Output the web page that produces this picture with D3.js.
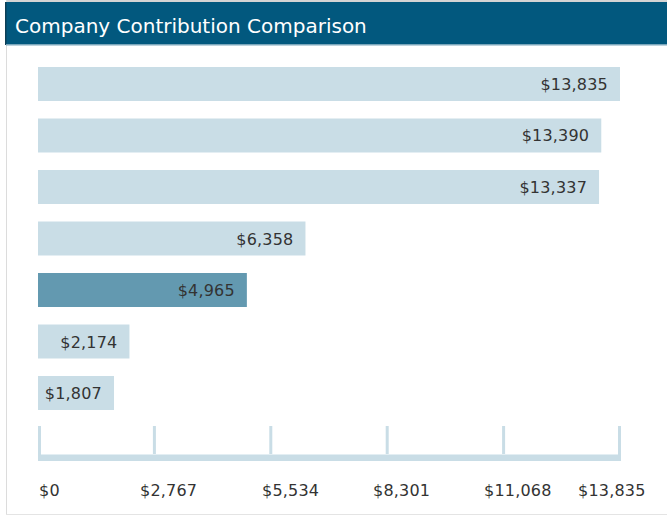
<!DOCTYPE html>
<html>
<head>
<meta charset="utf-8">
<script src="https://cdn.jsdelivr.net/npm/d3@7"></script>
<style>
  html, body { margin: 0; padding: 0; background: #fff; }
  svg { display: block; }
</style>
</head>
<body>
<svg id="chart" width="667" height="516"></svg>
<script>
const title = "Company Contribution Comparison";
const categories = ["Company 1", "Company 2", "Company 3", "Company 4", "Your Company", "Company 6", "Company 7"];
const values = [13835, 13390, 13337, 6358, 4965, 2174, 1807];
const highlightCategory = "Your Company";
const tickValues = [0, 2767, 5534, 8301, 11068, 13835];
const tickLabels = ["$0", "$2,767", "$5,534", "$8,301", "$11,068", "$13,835"];

const svg = d3.select("#chart");
const W = 667, H = 516;
const font = "'DejaVu Sans', sans-serif";
const fmt = d3.format(",");

// frame
svg.append("rect").attr("x", 6).attr("y", 0).attr("width", W - 6).attr("height", 2).attr("fill", "#d4d4d4");
svg.append("rect").attr("x", 6).attr("y", 0).attr("width", 1).attr("height", H - 1).attr("fill", "#dcdcdc");
svg.append("rect").attr("x", 6).attr("y", H - 2).attr("width", W - 6).attr("height", 1).attr("fill", "#e4e4e4");

// title bar
svg.append("rect").attr("x", 6).attr("y", 2).attr("width", W - 6).attr("height", 42).attr("fill", "#02587e");
svg.append("rect").attr("x", 5).attr("y", 2).attr("width", 1.5).attr("height", 43).attr("fill", "#0d3f56");
svg.append("rect").attr("x", 6).attr("y", 44).attr("width", W - 6).attr("height", 1.5).attr("fill", "#7aa6bb");
svg.append("text").attr("x", 15).attr("y", 33)
  .attr("font-family", font).attr("font-size", 20).attr("fill", "#ffffff")
  .text(title);

const x = d3.scaleLinear().domain([0, d3.max(values)]).range([38, 620]);
const y = d3.scaleBand().domain(categories).range([67, 410]).paddingInner(0.34).paddingOuter(0);

const data = categories.map((c, i) => ({ c, v: values[i] }));

const g = svg.append("g");
g.selectAll("rect.bar").data(data).join("rect")
  .attr("class", "bar")
  .attr("x", x(0))
  .attr("y", d => y(d.c))
  .attr("width", d => x(d.v) - x(0))
  .attr("height", y.bandwidth())
  .attr("fill", d => d.c === highlightCategory ? "#6399b0" : "#c9dde6");

g.selectAll("text.val").data(data).join("text")
  .attr("class", "val")
  .attr("x", d => x(d.v) - 12)
  .attr("y", d => y(d.c) + y.bandwidth() / 2 + 6)
  .attr("text-anchor", "end")
  .attr("font-family", font).attr("font-size", 16)
  .attr("letter-spacing", 0.2)
  .attr("fill", "#333333")
  .text(d => "$" + fmt(d.v));

// axis
const axisTop = 426, axisBand = 455;
const ax = svg.append("g");
ax.selectAll("rect.tick").data(tickValues).join("rect")
  .attr("class", "tick")
  .attr("x", v => Math.max(x(0), Math.min(x(d3.max(values)) - 2, x(v) - 1.5)))
  .attr("y", axisTop)
  .attr("width", 3)
  .attr("height", axisBand - axisTop)
  .attr("fill", "#c9dde6");
ax.append("rect").attr("x", x(0)).attr("y", axisBand).attr("width", x(d3.max(values)) + 1 - x(0)).attr("height", 6).attr("fill", "#c9dde6");
ax.append("rect").attr("x", x(0) + 3).attr("y", axisBand - 1).attr("width", x(d3.max(values)) - 5 - x(0)).attr("height", 1).attr("fill", "#e3eef3");

// tick labels: laid out like table cells under the axis
const labelLeft = [39, 140, 262, 373, 484, 578];
ax.selectAll("text.tl").data(tickLabels).join("text")
  .attr("class", "tl")
  .attr("x", (t, i) => labelLeft[i])
  .attr("y", 496)
  .attr("font-family", font).attr("font-size", 16)
  .attr("letter-spacing", 0.2)
  .attr("fill", "#333333")
  .text(t => t);
</script>
</body>
</html>
